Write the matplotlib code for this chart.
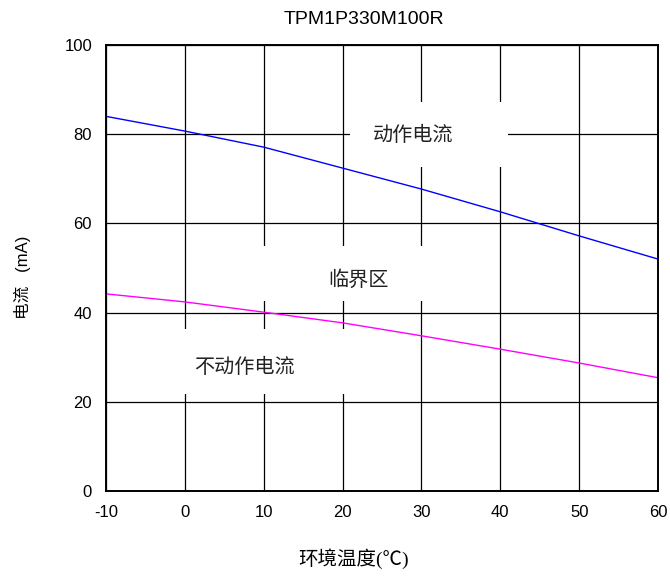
import matplotlib
matplotlib.use("Agg")
import matplotlib.pyplot as plt
from matplotlib.patches import Rectangle

# ---- data ----
temps = [-10, 0, 10, 20, 30, 40, 50, 60]
operate_current = [84.0, 80.7, 77.1, 72.4, 67.7, 62.6, 57.2, 52.0]
non_operate_current = [44.2, 42.4, 40.1, 37.7, 34.8, 31.8, 28.7, 25.4]
x_ticks = [-10, 0, 10, 20, 30, 40, 50, 60]
y_ticks = [0, 20, 40, 60, 80, 100]

title = "TPM1P330M100R"
xlabel = "环境温度(℃)"
ylabel = "电流   (mA)"
region_labels = ["动作电流", "临界区", "不动作电流"]

plt.rcParams['font.family'] = ['Liberation Sans', 'Noto Sans CJK SC', 'DejaVu Sans']
plt.rcParams['axes.unicode_minus'] = False
cjk = ['Noto Sans CJK SC', 'DejaVu Sans']

fig = plt.figure(figsize=(6.7, 5.77), dpi=100)
ax = fig.add_axes([106/670, 86/577, 552/670, 446/577])

ax.set_xlim(-10, 60)
ax.set_ylim(0, 100)
ax.set_xticks(x_ticks)
ax.set_yticks(y_ticks)
ax.tick_params(axis='both', length=0, labelsize=12, pad=10)
ax.set_axisbelow(True)
ax.grid(True, color='black', linewidth=0.9)
for s in ax.spines.values():
    s.set_linewidth(1.4)
    s.set_color('black')

# white boxes behind labels (breaking grid lines)
boxes = [
    (20.9, 72.6, 20.1, 14.6),
    (3.0, 42.6, 32.0, 12.3),
    (-5.0, 21.7, 30.0, 14.6),
]
for (bx, by, bw, bh) in boxes:
    ax.add_patch(Rectangle((bx, by), bw, bh, facecolor='white',
                           edgecolor='none', zorder=1))

ax.plot(temps, operate_current, color='#0000FF', linewidth=1.0, zorder=2)
ax.plot(temps, non_operate_current, color='#FF00FF', linewidth=1.0, zorder=2)

label_pos = [(28.9, 79.6), (22.0, 47.3), (7.6, 27.6)]
for txt, (tx, ty) in zip(region_labels, label_pos):
    ax.text(tx, ty, txt, family=cjk, fontsize=14.5, color='#222222',
            ha='center', va='center', zorder=3)

fig.text(364/670, 1 - 19/577, title, fontsize=14, ha='center', va='center')
fig.text(354/670, 1 - 559/577, xlabel,
         family=['Liberation Serif', 'Noto Sans CJK SC', 'DejaVu Sans'],
         fontsize=14, ha='center', va='center')
fig.text(22/670, 1 - 277/577, ylabel, fontsize=12,
         ha='center', va='center', rotation=90)

fig.savefig("out.png", dpi=100)
